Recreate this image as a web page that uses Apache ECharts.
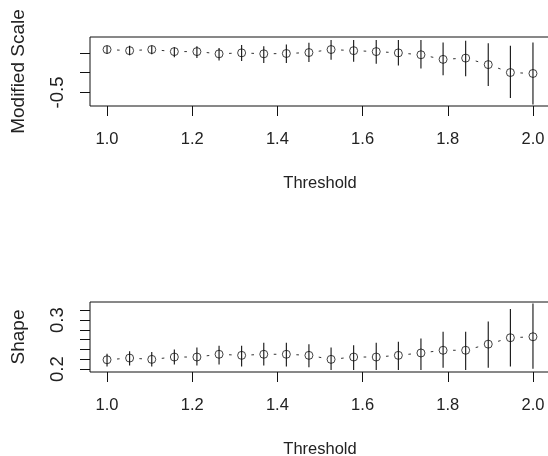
<!DOCTYPE html>
<html>
<head>
<meta charset="utf-8">
<script src="https://cdn.jsdelivr.net/npm/echarts@6/dist/echarts.min.js"></script>
<style>
html,body{margin:0;padding:0;background:#fff;}
#chart{width:548px;height:456px;}
</style>
</head>
<body>
<div id="chart"></div>
<script>
// Threshold values (x positions)
const thresholds = [1.000, 1.053, 1.105, 1.158, 1.211, 1.263, 1.316, 1.368, 1.421, 1.474,
                    1.526, 1.579, 1.632, 1.684, 1.737, 1.789, 1.842, 1.895, 1.947, 2.000];

// Modified scale estimates and interval bounds
const scaleEst   = [-0.229, -0.236, -0.229, -0.242, -0.242, -0.256, -0.250, -0.256, -0.254, -0.248,
                    -0.229, -0.236, -0.242, -0.250, -0.262, -0.291, -0.283, -0.324, -0.374, -0.380];
const scaleUpper = [-0.205, -0.205, -0.203, -0.215, -0.209, -0.219, -0.200, -0.209, -0.198, -0.186,
                    -0.169, -0.169, -0.169, -0.169, -0.169, -0.184, -0.174, -0.190, -0.205, -0.184];
const scaleLower = [-0.256, -0.265, -0.258, -0.277, -0.283, -0.298, -0.302, -0.314, -0.314, -0.308,
                    -0.293, -0.306, -0.318, -0.329, -0.349, -0.391, -0.397, -0.459, -0.535, -0.576];

// Shape estimates and interval bounds
const shapeEst   = [0.2190, 0.2225, 0.2198, 0.2246, 0.2246, 0.2302, 0.2280, 0.2302, 0.2302, 0.2280,
                    0.2198, 0.2246, 0.2246, 0.2280, 0.2329, 0.2384, 0.2384, 0.2509, 0.2640, 0.2660];
const shapeUpper = [0.2315, 0.2363, 0.2350, 0.2398, 0.2440, 0.2474, 0.2474, 0.2536, 0.2536, 0.2509,
                    0.2440, 0.2488, 0.2536, 0.2557, 0.2626, 0.2764, 0.2764, 0.2971, 0.3226, 0.3337];
const shapeLower = [0.2052, 0.2074, 0.2052, 0.2094, 0.2074, 0.2094, 0.2052, 0.2074, 0.2052, 0.2039,
                    0.1983, 0.1983, 0.1983, 0.1983, 0.1983, 0.2025, 0.1983, 0.2025, 0.2052, 0.2005];

// Tick marks and labels
const xTicks = [1.0, 1.2, 1.4, 1.6, 1.8, 2.0];
const scaleTicks = [-0.5, -0.375, -0.25];
const scaleLabels = [-0.5];
const shapeTicks = [0.2, 0.22, 0.24, 0.26, 0.28, 0.3, 0.32];
const shapeLabels = [0.2, 0.3];

const xTitle = 'Threshold';
const scaleTitle = 'Modified Scale';
const shapeTitle = 'Shape';

const FONT = 'Liberation Sans, Arial, sans-serif';
const TXT = '#222';
const INK = '#111';

function xAxisCfg(gi) {
  return {
    type: 'value', gridIndex: gi, min: 0.96, max: 2.04,
    name: xTitle, nameLocation: 'middle', nameGap: 69,
    nameTextStyle: {fontFamily: FONT, fontSize: 16.5, color: TXT},
    axisLine: {show: false},
    axisTick: {show: true, inside: false, length: 10, customValues: xTicks, lineStyle: {color: INK, width: 1}},
    axisLabel: {show: true, customValues: xTicks, margin: 25, fontFamily: FONT, fontSize: 16.5, color: TXT,
                formatter: v => v.toFixed(1)},
    splitLine: {show: false}
  };
}
function yAxisCfg(gi, min, max, ticks, labels, title) {
  return {
    type: 'value', gridIndex: gi, min: min, max: max,
    name: title, nameLocation: 'middle', nameRotate: 90, nameGap: 62,
    nameTextStyle: {fontFamily: FONT, fontSize: 19, color: TXT},
    axisLine: {show: false},
    axisTick: {show: true, length: 10, customValues: ticks, lineStyle: {color: INK, width: 1}},
    axisLabel: {show: true, customValues: labels, rotate: 90, margin: 23, fontFamily: FONT, fontSize: 18.5, color: TXT,
                formatter: v => v.toFixed(1)},
    splitLine: {show: false}
  };
}

function barSeries(gi, est, lo, hi) {
  const n = thresholds.length;
  return {
    type: 'custom', xAxisIndex: gi, yAxisIndex: gi, clip: true, silent: true,
    data: thresholds.map((x, i) => [x, lo[i], hi[i], est[i]]),
    renderItem: function (params, api) {
      const i = params.dataIndex;
      const x = api.value(0);
      const top = api.coord([x, api.value(2)]);
      const bot = api.coord([x, api.value(1)]);
      const children = [{
        type: 'line',
        shape: {x1: top[0], y1: top[1], x2: bot[0], y2: bot[1]},
        style: {stroke: INK, lineWidth: 1.1}
      }];
      if (i < n - 1) {
        const p = api.coord([x, est[i]]);
        const q = api.coord([thresholds[i + 1], est[i + 1]]);
        const mx = (p[0] + q[0]) / 2, my = (p[1] + q[1]) / 2;
        const dx = q[0] - p[0], dy = q[1] - p[1];
        const L = Math.sqrt(dx * dx + dy * dy);
        const h = 1.3;
        children.push({
          type: 'line',
          shape: {x1: mx - dx / L * h, y1: my - dy / L * h, x2: mx + dx / L * h, y2: my + dy / L * h},
          style: {stroke: '#333', lineWidth: 1}
        });
      }
      return {type: 'group', children: children};
    }
  };
}
function pointSeries(gi, est) {
  return {
    type: 'scatter', xAxisIndex: gi, yAxisIndex: gi, silent: true,
    symbol: 'circle', symbolSize: 8,
    itemStyle: {color: 'rgba(0,0,0,0)', borderColor: INK, borderWidth: 1},
    data: thresholds.map((x, i) => [x, est[i]])
  };
}

const chart = echarts.init(document.getElementById('chart'), null, {renderer: 'canvas'});
chart.setOption({
  animation: false,
  backgroundColor: '#fff',
  grid: [
    {left: 90, top: 37, width: 460, height: 69, show: true, borderColor: INK, borderWidth: 1,
     backgroundColor: 'transparent', containLabel: false, outerBoundsMode: 'none'},
    {left: 90, top: 302, width: 460, height: 70, show: true, borderColor: INK, borderWidth: 1,
     backgroundColor: 'transparent', containLabel: false, outerBoundsMode: 'none'}
  ],
  xAxis: [xAxisCfg(0), xAxisCfg(1)],
  yAxis: [
    yAxisCfg(0, -0.585, -0.150, scaleTicks, scaleLabels, scaleTitle),
    yAxisCfg(1, 0.194, 0.337, shapeTicks, shapeLabels, shapeTitle)
  ],
  series: [
    barSeries(0, scaleEst, scaleLower, scaleUpper),
    pointSeries(0, scaleEst),
    barSeries(1, shapeEst, shapeLower, shapeUpper),
    pointSeries(1, shapeEst)
  ]
});
</script>
</body>
</html>
